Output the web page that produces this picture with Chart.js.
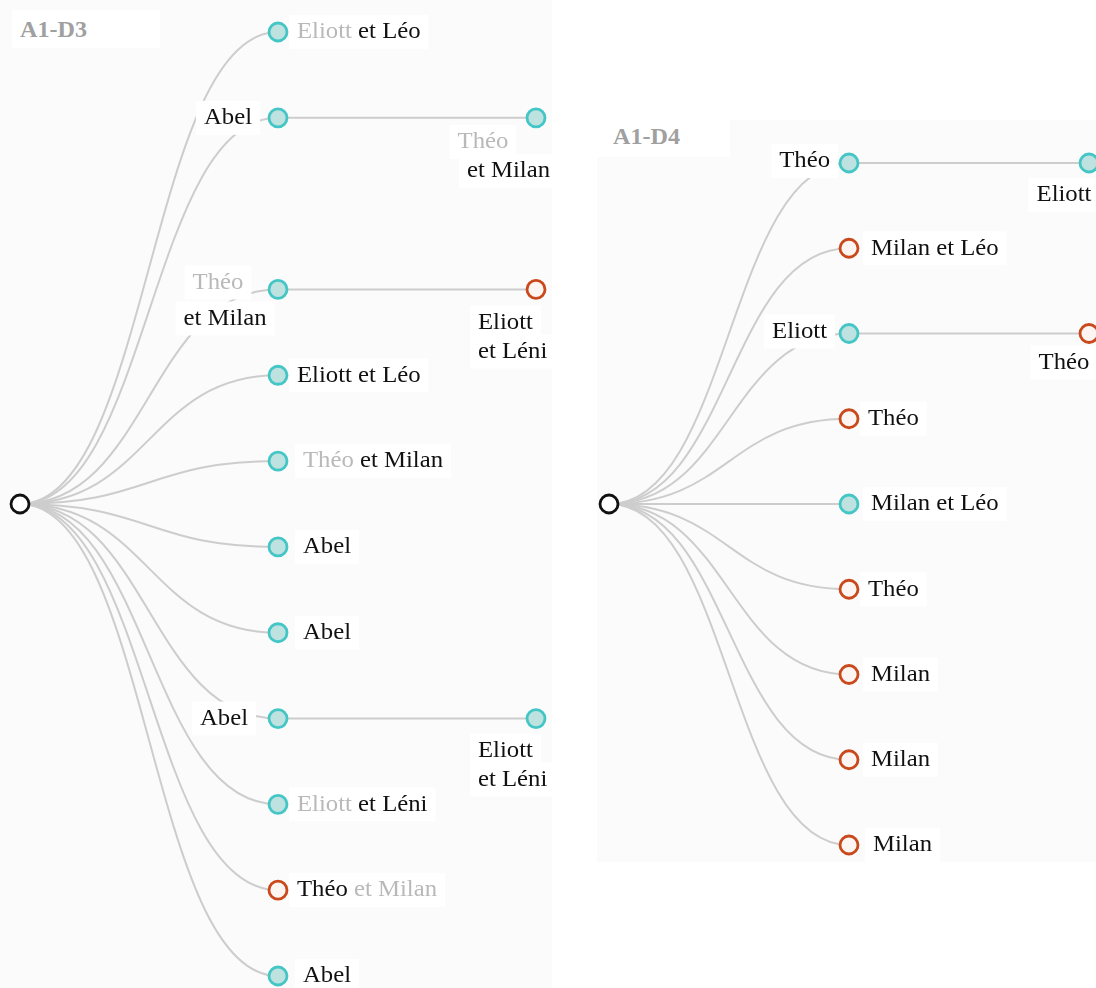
<!DOCTYPE html>
<html><head><meta charset="utf-8">
<script src="https://cdn.jsdelivr.net/npm/chart.js@4.4.1/dist/chart.umd.min.js"></script>
<style>
html,body{margin:0;padding:0;background:#fff;width:1096px;height:988px;overflow:hidden;position:relative}
.panel{position:absolute;background:#fbfbfb}
#p1{left:0;top:0;width:552px;height:988px}
#p2{left:597px;top:120px;width:499px;height:742px}
canvas{position:absolute;top:0}
#c1{left:0}
#c2{left:597px}
.tbox{position:absolute;background:#fff}
.title{position:absolute;font:bold 23px "Liberation Serif","Times New Roman",serif;color:#a0a0a0;transform:scaleX(1.05);transform-origin:0 50%;line-height:26px;white-space:nowrap}
</style></head>
<body>
<div class="panel" id="p1"></div>
<div class="panel" id="p2"></div>
<div class="tbox" style="left:12px;top:10px;width:148px;height:38px"></div>
<div class="tbox" style="left:597px;top:120px;width:133px;height:37px"></div>
<div class="title" style="left:20px;top:17px">A1-D3</div>
<div class="title" style="left:613px;top:124px">A1-D4</div>
<canvas id="c1" width="556" height="988"></canvas>
<canvas id="c2" width="499" height="988"></canvas>
<script>
// ---------- data: panel A1-D3 ----------
const D3_ROOT_ROW = 5.5;
const D3_CHILD_ROWS = [0, 1, 3, 4, 5, 6, 7, 8, 9, 10, 11];
const D3_CHILD_TYPES = ['teal','teal','teal','teal','teal','teal','teal','teal','teal','orange','teal'];
const D3_CHILD_LABELS = [
  [[['Eliott','muted'],[' et Léo','ink']]],
  [[['Abel','ink']]],
  [[['Théo','muted']],[['et Milan','ink']]],
  [[['Eliott et Léo','ink']]],
  [[['Théo','muted'],[' et Milan','ink']]],
  [[['Abel','ink']]],
  [[['Abel','ink']]],
  [[['Abel','ink']]],
  [[['Eliott','muted'],[' et Léni','ink']]],
  [[['Théo','ink'],[' et Milan','muted']]],
  [[['Abel','ink']]]
];
const D3_GRAND_PARENT_ROWS = [1, 3, 8];
const D3_GRAND_TYPES = ['teal','orange','teal'];
const D3_GRAND_LABELS = [
  [[['Théo','muted']],[['et Milan','ink']]],
  [[['Eliott','ink']],[['et Léni','ink']]],
  [[['Eliott','ink']],[['et Léni','ink']]]
];

// ---------- data: panel A1-D4 ----------
const D4_ROOT_ROW = 4;
const D4_CHILD_ROWS = [0, 1, 2, 3, 4, 5, 6, 7, 8];
const D4_CHILD_TYPES = ['teal','orange','teal','orange','teal','orange','orange','orange','orange'];
const D4_CHILD_LABELS = [
  [[['Théo','ink']]],
  [[['Milan et Léo','ink']]],
  [[['Eliott','ink']]],
  [[['Théo','ink']]],
  [[['Milan et Léo','ink']]],
  [[['Théo','ink']]],
  [[['Milan','ink']]],
  [[['Milan','ink']]],
  [[['Milan','ink']]]
];
const D4_GRAND_PARENT_ROWS = [0, 2];
const D4_GRAND_TYPES = ['teal','orange'];
const D4_GRAND_LABELS = [
  [[['Eliott','ink']]],
  [[['Théo','ink']]]
];

// ---------- styles / layout ----------
const NODE_STYLE = {
  root:   {fill:'#ffffff', stroke:'#111111'},
  teal:   {fill:'#bde2df', stroke:'#45c6c6'},
  orange: {fill:'#fdf5f1', stroke:'#c9491c'}
};
const TONE = {ink:'#111111', muted:'#b9b9b9'};
const LINK_COLOR = '#cdcdcd';
const FONT = '24px "Liberation Serif","Times New Roman",serif';
const XSTRETCH = 1.03;

const L = (dx, dy, align) => ({dx, dy: dy || 0, align: align || 'left'});
const D3_CHILD_LAYOUT = [
  [L(19)], [L(-26,0,'right')], [L(-60,-7,'center'), L(-53,29,'center')], [L(19)],
  [L(25)], [L(25)], [L(25)], [L(-30,0,'right')], [L(19)], [L(19)], [L(25)]
];
const D3_GRAND_LAYOUT = [
  [L(-53,24,'center'), L(14,53,'right')],
  [L(-58,33), L(-58,62)],
  [L(-58,32), L(-58,61)]
];
const D4_CHILD_LAYOUT = [
  [L(-19,-2,'right')], [L(22)], [L(-22,-2,'right')], [L(19)], [L(22)], [L(19)], [L(22)], [L(22)], [L(24)]
];
const D4_GRAND_LAYOUT = [
  [L(-25,32,'center')],
  [L(-25,29,'center')]
];

function buildTree(canvasId, cfg) {
  const nodes = [{x:0, y:cfg.rootRow, type:'root'}];
  cfg.childRows.forEach((r,i) => nodes.push({x:1, y:r, type:cfg.childTypes[i]}));
  cfg.grandRows.forEach((r,i) => nodes.push({x:2, y:r, type:cfg.grandTypes[i]}));

  const treePlugin = {
    id: 'tree',
    beforeDatasetsDraw(chart) {
      const ctx = chart.ctx, sx = chart.scales.x, sy = chart.scales.y;
      const px = (d) => sx.getPixelForValue(d), py = (r) => sy.getPixelForValue(r);
      ctx.save();
      ctx.strokeStyle = LINK_COLOR;
      ctx.lineWidth = 2;
      const link = (x0,y0,x1,y1) => {
        const mx = (x0 + x1) / 2;
        ctx.beginPath();
        ctx.moveTo(x0,y0);
        ctx.bezierCurveTo(mx,y0,mx,y1,x1,y1);
        ctx.stroke();
      };
      const rx = px(0), ry = py(cfg.rootRow);
      cfg.childRows.forEach(r => link(rx, ry, px(1), py(r)));
      cfg.grandRows.forEach(r => link(px(1), py(r), px(2), py(r)));

      ctx.font = FONT;
      ctx.textBaseline = 'middle';
      const drawLabel = (nx, ny, lines, layout) => {
        lines.forEach((segs, li) => {
          const lay = layout[li];
          const widths = segs.map(s => ctx.measureText(s[0]).width * XSTRETCH);
          const total = widths.reduce((a,b) => a+b, 0);
          let x0 = nx + lay.dx;
          if (lay.align === 'right') x0 -= total;
          else if (lay.align === 'center') x0 -= total/2;
          const y = ny + lay.dy;
          ctx.fillStyle = '#ffffff';
          ctx.fillRect(x0 - 8, y - 17, total + 16, 34);
          let x = x0;
          segs.forEach((s, si) => {
            ctx.save();
            ctx.translate(x, y);
            ctx.scale(XSTRETCH, 1);
            ctx.fillStyle = TONE[s[1]];
            ctx.fillText(s[0], 0, 0);
            ctx.restore();
            x += widths[si];
          });
        });
      };
      cfg.childRows.forEach((r,i) => drawLabel(px(1), py(r), cfg.childLabels[i], cfg.childLayout[i]));
      cfg.grandRows.forEach((r,i) => drawLabel(px(2), py(r), cfg.grandLabels[i], cfg.grandLayout[i]));
      ctx.restore();
    }
  };

  return new Chart(document.getElementById(canvasId), {
    type: 'scatter',
    data: {
      datasets: [{
        data: nodes.map(n => ({x:n.x, y:n.y})),
        pointRadius: 9,
        pointBorderWidth: 2.8,
        pointBackgroundColor: nodes.map(n => NODE_STYLE[n.type].fill),
        pointBorderColor: nodes.map(n => NODE_STYLE[n.type].stroke),
        clip: false
      }]
    },
    options: {
      responsive: false,
      animation: false,
      events: [],
      layout: {padding: 0, autoPadding: false},
      scales: {
        x: {type:'linear', display:false, min:cfg.xMin, max:cfg.xMax},
        y: {type:'linear', display:false, reverse:true, min:cfg.yMin, max:cfg.yMax}
      },
      plugins: {legend:{display:false}, tooltip:{enabled:false}}
    },
    plugins: [treePlugin]
  });
}

// axis windows (canvas calibration)
const D3_DEPTH_PX = 258, D3_ROW_PX = (976 - 32) / 11;
const D4_DEPTH_PX = 240, D4_ROW_PX = (845 - 163) / 8;

buildTree('c1', {
  rootRow: D3_ROOT_ROW, childRows: D3_CHILD_ROWS, childTypes: D3_CHILD_TYPES, childLabels: D3_CHILD_LABELS,
  grandRows: D3_GRAND_PARENT_ROWS, grandTypes: D3_GRAND_TYPES, grandLabels: D3_GRAND_LABELS,
  childLayout: D3_CHILD_LAYOUT, grandLayout: D3_GRAND_LAYOUT,
  xMin: -20 / D3_DEPTH_PX, xMax: -20 / D3_DEPTH_PX + 556 / D3_DEPTH_PX,
  yMin: -32 / D3_ROW_PX, yMax: -32 / D3_ROW_PX + 988 / D3_ROW_PX
});
buildTree('c2', {
  rootRow: D4_ROOT_ROW, childRows: D4_CHILD_ROWS, childTypes: D4_CHILD_TYPES, childLabels: D4_CHILD_LABELS,
  grandRows: D4_GRAND_PARENT_ROWS, grandTypes: D4_GRAND_TYPES, grandLabels: D4_GRAND_LABELS,
  childLayout: D4_CHILD_LAYOUT, grandLayout: D4_GRAND_LAYOUT,
  xMin: -12 / D4_DEPTH_PX, xMax: -12 / D4_DEPTH_PX + 499 / D4_DEPTH_PX,
  yMin: -163 / D4_ROW_PX, yMax: -163 / D4_ROW_PX + 988 / D4_ROW_PX
});
</script>
</body></html>
